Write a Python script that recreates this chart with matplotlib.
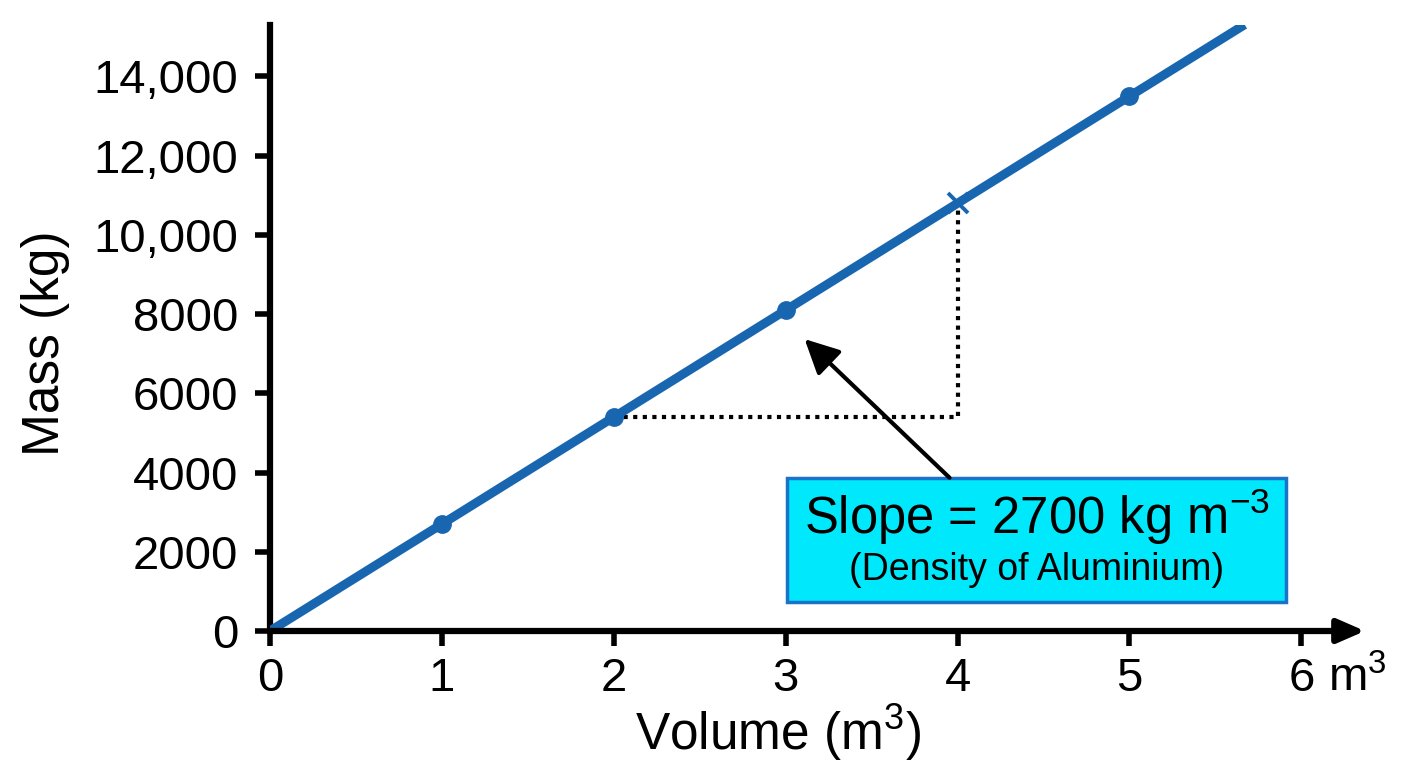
import matplotlib
matplotlib.use('Agg')
import matplotlib.pyplot as plt
from matplotlib.patches import Rectangle
import numpy as np

plt.rcParams['font.family'] = ['Liberation Sans', 'DejaVu Sans']
plt.rcParams['mathtext.fontset'] = 'custom'
plt.rcParams['mathtext.rm'] = 'Liberation Sans'
plt.rcParams['mathtext.it'] = 'Liberation Sans:italic'

# data
density = 2700
dot_volumes = [1, 2, 3, 5]
cross_volume = 4
line_end = 5.67
xticks = [0, 1, 2, 3, 4, 5, 6]
xtick_labels = ['0', '1', '2', '3', '4', '5', '6']
yticks = [0, 2000, 4000, 6000, 8000, 10000, 12000, 14000]
ytick_labels = ['0', '2000', '4000', '6000', '8000', '10,000', '12,000', '14,000']

blue = '#1966b0'

fig = plt.figure(figsize=(14.08, 7.68), dpi=100)
ax = fig.add_axes([270 / 1408, 137 / 768, 1095 / 1408, 606 / 768])

# main line through origin
xs = np.array([0, line_end])
ax.plot(xs, density * xs, color=blue, lw=6.5, solid_capstyle='butt', zorder=3)
dv = np.array(dot_volumes)
ax.plot(dv, density * dv, 'o', color=blue, ms=12.5, zorder=4)
ax.plot([cross_volume], [density * cross_volume], 'x', color=blue, ms=15, mew=2.8, zorder=4)

# slope triangle
x0, x1 = 2, cross_volume
ax.plot([x0, x1, x1], [density * x0, density * x0, density * x1],
        color='black', lw=3, ls=(0, (1, 1.3)), zorder=2)

ax.set_xlim(0, 6.37)
ax.set_ylim(0, 15300)
ax.set_xticks(xticks)
ax.set_xticklabels(xtick_labels)
ax.set_yticks(yticks)
ax.set_yticklabels(ytick_labels)

for s in ['top', 'right', 'bottom']:
    ax.spines[s].set_visible(False)
ax.spines['left'].set_linewidth(4.5)
ax.tick_params(axis='both', length=11, width=4, labelsize=34, direction='out')
ax.tick_params(axis='y', pad=12)
ax.tick_params(axis='x', pad=8)

# x axis with arrow
ax.annotate('', xy=(1.0, 0), xycoords='axes fraction', xytext=(0, 0),
            arrowprops=dict(arrowstyle='-|>,head_length=0.55,head_width=0.24', lw=4.5,
                            color='black', mutation_scale=30, shrinkA=0, shrinkB=0),
            annotation_clip=False)

ax.annotate('m$^3$', xy=(6, 0), xycoords='data', xytext=(19, -18),
            textcoords='offset points', fontsize=34, ha='left', va='top',
            annotation_clip=False)

ax.set_xlabel('Volume (m$^3$)', fontsize=37)
ax.xaxis.set_label_coords((778 - 270) / 1095, -0.118)
ax.set_ylabel('Mass (kg)', fontsize=37)
ax.yaxis.set_label_coords(-0.183, (631 - 343) / 606)

# annotation box
ax.add_patch(Rectangle((3.006, 740), 2.907, 3130, facecolor='#00e8fc',
                       edgecolor='#1a73c8', lw=2.5, zorder=5))
ax.text(4.46, 2880, 'Slope = 2700 kg m$^{-3}$', fontsize=36.5, ha='center', va='center', zorder=6)
ax.text(4.46, 1540, '(Density of Aluminium)', fontsize=27, ha='center', va='center', zorder=6)

ax.annotate('', xy=(3.11, 7370), xytext=(3.953, 3870),
            arrowprops=dict(arrowstyle='-|>,head_length=0.6,head_width=0.3', lw=3,
                            color='black', mutation_scale=35, shrinkA=0, shrinkB=0),
            zorder=6)

fig.savefig('out.png', dpi=100)
